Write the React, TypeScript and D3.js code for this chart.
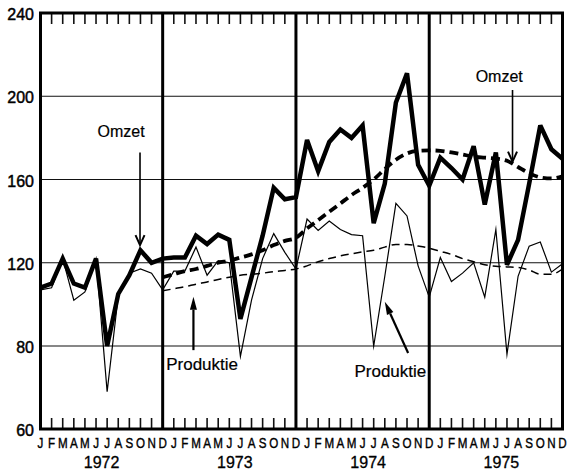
import * as d3 from "d3";

const months = ["J", "F", "M", "A", "M", "J", "J", "A", "S", "O", "N", "D"];
const years = ["1972", "1973", "1974", "1975"];
const yTicks = [60, 80, 120, 160, 200, 240];
const gridValues = [80, 120, 160, 200];

// Omzet (thick line), monthly
const omzet1972 = [108, 110, 122, 110, 108, 122, 80, 105, 114, 126, 120, 122];
const omzet1973 = [122.5, 122.5, 133, 129, 133.5, 131, 93, 113, 133, 156, 150.5, 151.5];
const omzet1974 = [179, 164, 178, 184, 180, 186, 139, 158, 197, 211, 167, 157];
const omzet1975 = [170.5, 165.5, 160, 176, 148, 173, 119, 131, 158, 186, 174.5, 170];

// Produktie (thin line), monthly
const produktie1972 = [107, 108, 122, 102, 106, 122, 69, 104, 115, 117, 115, 107];
const produktie1973 = [116, 116, 127.5, 114, 121, 120, 77.5, 102, 122, 134, 125, 117];
const produktie1974 = [141, 135.5, 140, 136, 133.5, 133, 80, 113.5, 148.5, 142.5, 118.5, 103.5];
const produktie1975 = [122.5, 111, 115, 120, 103.5, 136, 78, 113.5, 128, 130, 115.5, 119.5];

// trends (dashed), from Dec 1972 onwards
const trendStart = 11;
const omzetTrend = [
  113, 114.5, 116, 117, 118.5, 120, 121, 122.5, 124, 126, 128.5, 130.5, 132,
  136.5, 140.5, 144.5, 148.5, 152.5, 156, 160, 165, 169.5, 172.5, 173.8, 174,
  173.8, 173, 172, 171, 170.5, 170, 169, 166, 163, 161, 160.5, 161.5,
];
const produktieTrend = [
  106.5, 107.5, 108.5, 109.7, 110.8, 112, 113, 114, 114.5, 115, 115.7, 116.3, 117,
  118.5, 120.5, 122, 123.3, 124.3, 125.2, 126, 127.5, 128.8, 128.8, 128, 127,
  125.5, 124, 122, 120.5, 119, 118.3, 118, 117.7, 116.5, 114.5, 114.5, 117,
];

// annotations in data units (month index, value)
const labels = [
  { text: "Omzet", x: 7.25, y: 180.4, size: 16, from: [8.96, 173], to: [8.96, 128.5], filled: false },
  { text: "Omzet", x: 41.3, y: 206.9, size: 16, from: [42.5, 203], to: [42.5, 168.6], filled: false },
  { text: "Produktie", x: 14.55, y: 74.2, size: 17, from: [13.77, 79], to: [13.77, 103.7], filled: true },
  { text: "Produktie", x: 31.5, y: 72.5, size: 17, from: [33.1, 78.3], to: [31.0, 101.3], filled: true },
];

const omzet = [...omzet1972, ...omzet1973, ...omzet1974, ...omzet1975];
const produktie = [...produktie1972, ...produktie1973, ...produktie1974, ...produktie1975];

const W = 568;
const H = 475;
const font = "'Liberation Sans', Arial, sans-serif";

export default function App() {
  const x = d3.scaleLinear().domain([0, 47]).range([40.5, 562.5]);
  // axis is broken at the bottom: 60..80 takes as much room as 40 units above
  const y = d3.scaleLinear().domain([60, 80, 240]).range([429, 346, 13]);
  const top = y(240);
  const bottom = y(60);

  const line = d3
    .line<number>()
    .x((d, i) => x(i))
    .y((d) => y(d));
  const trendLine = d3
    .line<number>()
    .x((d, i) => x(i + trendStart))
    .y((d) => y(d))
    .curve(d3.curveMonotoneX);

  const monthIdx = d3.range(48);

  const arrow = (a: any, k: number) => {
    const x1 = x(a.from[0]);
    const y1 = y(a.from[1]);
    const x2 = x(a.to[0]);
    const y2 = y(a.to[1]);
    const len = Math.hypot(x2 - x1, y2 - y1);
    const ux = (x2 - x1) / len;
    const uy = (y2 - y1) / len;
    const hl = a.filled ? 13 : 10;
    const hw = a.filled ? 3.5 : 4.5;
    const bx = x2 - ux * hl;
    const by = y2 - uy * hl;
    const p1 = [bx - uy * hw, by + ux * hw];
    const p2 = [bx + uy * hw, by - ux * hw];
    return (
      <g key={"a" + k}>
        <line
          x1={x1}
          y1={y1}
          x2={a.filled ? bx : x2}
          y2={a.filled ? by : y2}
          stroke="#000"
          strokeWidth={a.filled ? 2.2 : 1.6}
        />
        {a.filled ? (
          <path d={`M${x2},${y2}L${p1[0]},${p1[1]}L${p2[0]},${p2[1]}Z`} fill="#000" />
        ) : (
          <path
            d={`M${p1[0]},${p1[1]}L${x2},${y2}L${p2[0]},${p2[1]}`}
            fill="none"
            stroke="#000"
            strokeWidth={2}
          />
        )}
      </g>
    );
  };

  return (
    <svg width={W} height={H} style={{ position: "absolute", left: 0, top: 0, background: "#fff" }}>
      <rect width={W} height={H} fill="#fff" />
      {/* horizontal grid */}
      {gridValues.map((v) => (
        <line key={"g" + v} x1={x(0)} x2={x(47)} y1={y(v)} y2={y(v)} stroke="#111" strokeWidth={1.2} />
      ))}
      {/* month ticks */}
      {monthIdx.map((i) => (
        <g key={"t" + i}>
          <line x1={x(i)} x2={x(i)} y1={bottom} y2={bottom - 11} stroke="#111" strokeWidth={1.6} />
          <line x1={x(i)} x2={x(i)} y1={top} y2={top + 11} stroke="#111" strokeWidth={1.6} />
        </g>
      ))}
      {/* year separators */}
      {[11, 23, 35].map((i) => (
        <line key={"s" + i} x1={x(i)} x2={x(i)} y1={top} y2={bottom} stroke="#000" strokeWidth={3} />
      ))}
      {/* trends */}
      <path d={trendLine(produktieTrend) || ""} fill="none" stroke="#000" strokeWidth={1.5} strokeDasharray="8,5" />
      <path d={trendLine(omzetTrend) || ""} fill="none" stroke="#000" strokeWidth={3.8} strokeDasharray="9,5" />
      {/* series */}
      <path d={line(produktie) || ""} fill="none" stroke="#000" strokeWidth={1.2} strokeLinejoin="miter" strokeMiterlimit={10} />
      <path d={line(omzet) || ""} fill="none" stroke="#000" strokeWidth={4.5} strokeLinejoin="miter" strokeMiterlimit={3} />
      {/* frame */}
      <rect x={x(0)} y={top} width={x(47) - x(0)} height={bottom - top} fill="none" stroke="#000" strokeWidth={3} />
      {/* y labels */}
      {yTicks.map((v) => (
        <text key={"y" + v} x={34} y={y(v) + 7} textAnchor="end" fontSize={16} fontFamily={font} fill="#000" stroke="#000" strokeWidth={0.45}>
          {v}
        </text>
      ))}
      {/* month labels */}
      {monthIdx.map((i) => (
        <text
          key={"m" + i}
          transform={`translate(${x(i)},${bottom + 19}) scale(0.8,1)`}
          textAnchor="middle"
          fontSize={14.5}
          fontFamily={font}
          fill="#000"
          stroke="#000"
          strokeWidth={0.4}
        >
          {months[i % 12]}
        </text>
      ))}
      {/* year labels */}
      {years.map((yr, k) => (
        <text
          key={yr}
          x={(x(k * 12) + x(k * 12 + 11)) / 2}
          y={bottom + 39}
          textAnchor="middle"
          fontSize={16}
          fontFamily={font}
          fill="#000"
          stroke="#000"
          strokeWidth={0.3}
        >
          {yr}
        </text>
      ))}
      {/* annotations */}
      {labels.map((a, k) => (
        <text key={"l" + k} x={x(a.x)} y={y(a.y)} textAnchor="middle" fontSize={a.size} fontFamily={font} fill="#000" stroke="#000" strokeWidth={0.2}>
          {a.text}
        </text>
      ))}
      {labels.map((a, k) => arrow(a, k))}
    </svg>
  );
}
